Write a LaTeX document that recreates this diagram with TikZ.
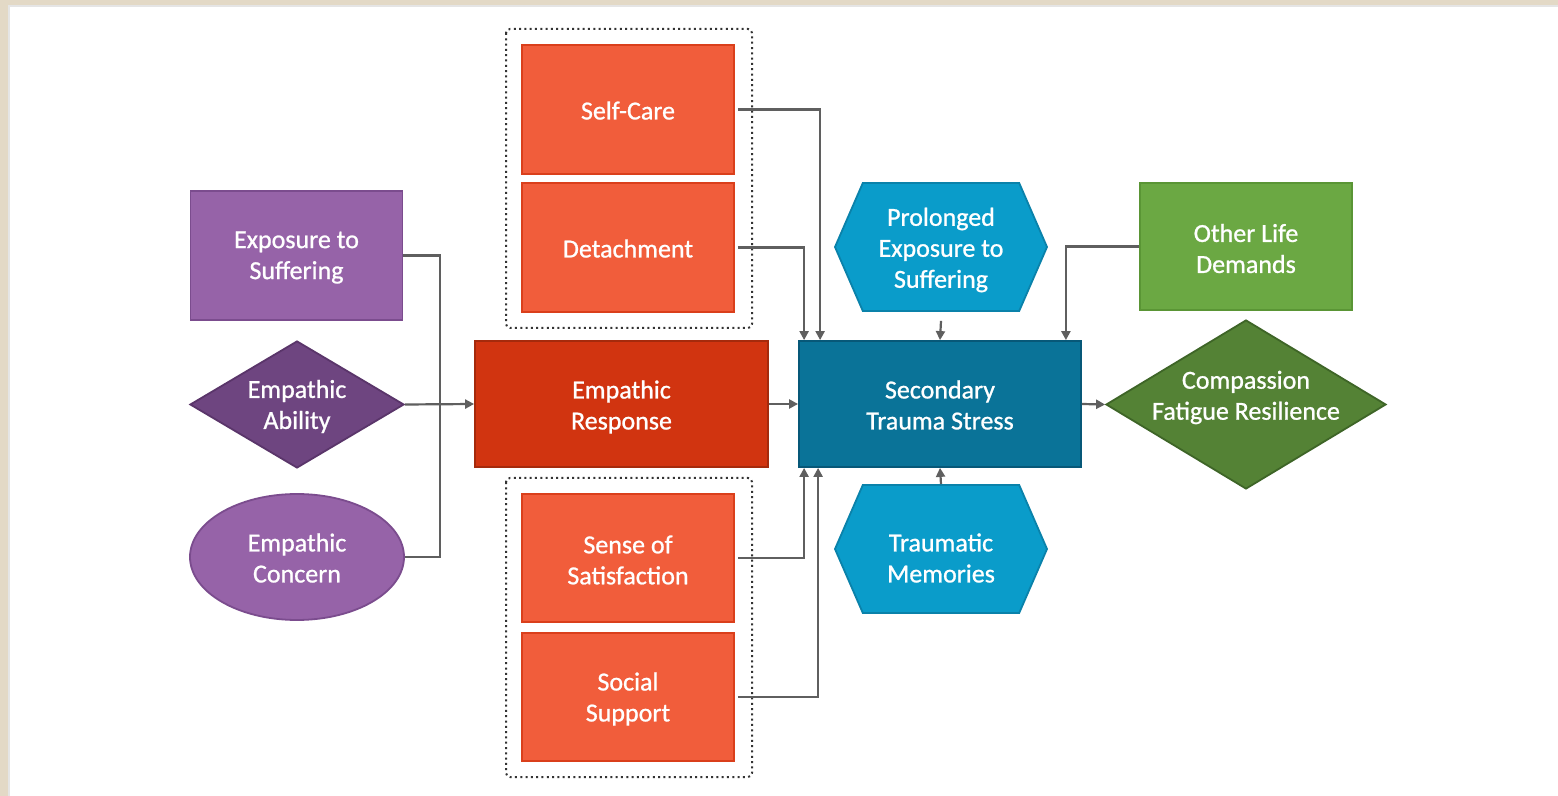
\documentclass[tikz,border=0pt]{standalone}
\usepackage{fontspec}
\setmainfont{Carlito}
\newfontfamily\diagfont{Carlito}[FakeBold=0.9]
\usetikzlibrary{shapes.geometric,shapes.symbols,arrows.meta}
\definecolor{beige}{HTML}{E3D9C6}
\definecolor{plight}{HTML}{9663A8}
\definecolor{plightb}{HTML}{7B4C8E}
\definecolor{pdark}{HTML}{6E4580}
\definecolor{pdarkb}{HTML}{5A356A}
\definecolor{erred}{HTML}{D13410}
\definecolor{erredb}{HTML}{A52A0C}
\definecolor{orng}{HTML}{F15D3B}
\definecolor{orngb}{HTML}{DA3F1B}
\definecolor{teal}{HTML}{0A7398}
\definecolor{tealb}{HTML}{075878}
\definecolor{hexb}{HTML}{0A9CCA}
\definecolor{hexbb}{HTML}{0A82AA}
\definecolor{glight}{HTML}{6BA843}
\definecolor{glightb}{HTML}{5A9535}
\definecolor{gdark}{HTML}{548235}
\definecolor{gdarkb}{HTML}{3E6527}
\definecolor{conncol}{HTML}{5F5F5F}
\begin{document}
\begin{tikzpicture}[x=0.5pt,y=-0.5pt,
  base/.style={line width=0.9pt, inner sep=0pt},
  lab/.style={text=white, align=center, font=\diagfont\fontsize{13}{15.5}\selectfont, inner sep=0pt},
  txt/.style={label={[lab,yshift=-1pt]center:{#1}}},
  txtat/.style 2 args={label={[lab,yshift=#1]center:{#2}}},
  rbox/.style={base, rectangle, minimum width=106pt, minimum height=64.5pt},
  pbox/.style={rbox, fill=plight, draw=plightb},
  obox/.style={rbox, fill=orng, draw=orngb},
  hexa/.style={base, signal, signal to=west and east, signal pointer angle=133, minimum width=106pt, minimum height=64pt, fill=hexb, draw=hexbb},
  conn/.style={draw=conncol, line width=1.1pt},
  arr/.style={conn, -{Triangle[length=4.5pt,width=4.5pt]}},
  dotbox/.style={draw=black!80, line width=1pt, dash pattern=on 1pt off 1.65pt, rounded corners=2pt}
]
\useasboundingbox (0,0) rectangle (1558,796);
\fill[beige] (0,0) rectangle (1558,796);
\fill[black!10] (8,5) rectangle (1558,796);
\fill[white] (10,7) rectangle (1558,796);

% dotted groups
\draw[dotbox] (506,29) rectangle (752,328);
\draw[dotbox] (506,478) rectangle (752,777);

% left group
\node[pbox, txt={Exposure to\\Suffering}] (expo) at (296.5,255.5) {};
\node[base, diamond, minimum width=107pt, minimum height=63.5pt, fill=pdark, draw=pdarkb,
  txt={Empathic\\Ability}] (abil) at (297,404.5) {};
\node[base, ellipse, minimum width=107pt, minimum height=63pt, fill=plight, draw=plightb,
  txtat={-0.5pt}{Empathic\\Concern}] (conc) at (297,557) {};

% middle
\node[obox, txtat={-0.5pt}{Self-Care}] (selfc) at (628,109.5) {};
\node[obox, txtat={-0.5pt}{Detachment}] (detach) at (628,247.5) {};
\node[obox, minimum height=64pt, txt={Sense of\\Satisfaction}] (sense) at (628,558) {};
\node[obox, minimum height=64pt, txt={Social\\Support}] (social) at (628,697) {};
\node[base, rectangle, minimum width=146.5pt, minimum height=63pt, fill=erred, draw=erredb,
  txtat={-1.5pt}{Empathic\\Response}] (er) at (621.5,404) {};

% right
\node[base, rectangle, minimum width=141pt, minimum height=63pt, fill=teal, draw=tealb,
  txtat={-0.5pt}{Secondary\\Trauma Stress}] (sts) at (940,404) {};
\node[hexa, txtat={-1.5pt}{Prolonged\\Exposure to\\Suffering}] (prolong) at (941,247) {};
\node[hexa, txtat={-4.5pt}{Traumatic\\Memories}] (trauma) at (941,549) {};
\node[rbox, minimum height=63.5pt, fill=glight, draw=glightb,
  txt={Other Life\\Demands}] (other) at (1246,246.5) {};
\node[base, diamond, minimum width=140pt, minimum height=84.5pt, fill=gdark, draw=gdarkb,
  txtat={3.5pt}{Compassion\\Fatigue Resilience}] (cfr) at (1246,404.5) {};

% connectors
\coordinate (jn) at (440,404.5);
\draw[conn] (expo.east) -| (jn);
\draw[conn] (conc.east) -| (jn);
\draw[arr] (abil.east) -- (er.west);
\draw[arr] (er.east) -- (sts.west);
\draw[arr] (sts.east) -- (cfr.west);
\draw[arr] ([xshift=1.5pt]selfc.east) -| ([xshift=11pt]sts.north west);
\draw[arr] ([xshift=1.5pt]detach.east) -| ([xshift=3pt]sts.north west);
\draw[arr] ([xshift=1.5pt]sense.east) -| ([xshift=3pt]sts.south west);
\draw[arr] ([xshift=1.5pt]social.east) -| ([xshift=10pt]sts.south west);
\draw[arr] ([yshift=-4.5pt]prolong.south) -- (sts.north);
\draw[arr] (trauma.north) -- (sts.south);
\draw[arr] (other.west) -| ([xshift=-8pt]sts.north east);
\end{tikzpicture}
\end{document}
